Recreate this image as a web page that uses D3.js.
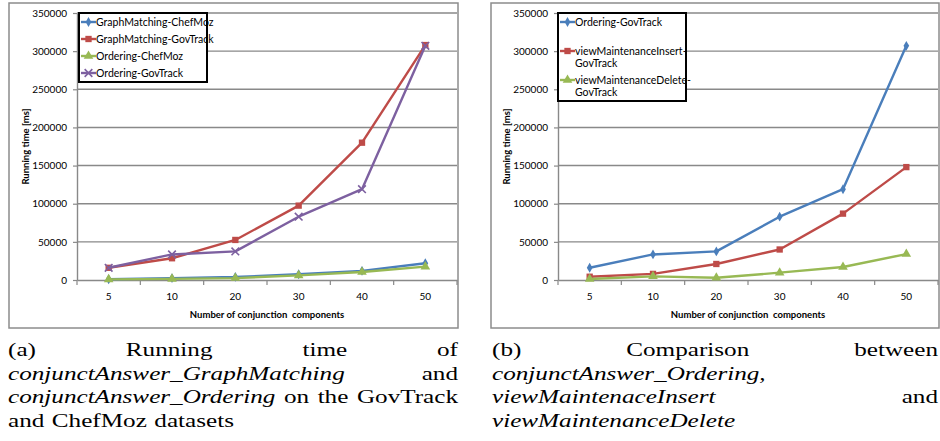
<!DOCTYPE html>
<html>
<head>
<meta charset="utf-8">
<script src="https://d3js.org/d3.v7.min.js"></script>
<style>
  body { margin: 0; background: #fff; }
  svg { display: block; }
</style>
</head>
<body>
<script>
// ---- data ----
const categories = ["5", "10", "20", "30", "40", "50"];
const yTickValues = [0, 50000, 100000, 150000, 200000, 250000, 300000, 350000];

// panel (a)
const graphMatchingChefMoz = [1000, 2500, 4000, 7500, 12000, 22000];
const graphMatchingGovTrack = [16000, 28500, 52500, 97500, 180000, 308000];
const orderingChefMoz = [800, 1500, 2500, 6000, 10500, 17500];
const orderingGovTrack = [16000, 33500, 37500, 83000, 119000, 307000];

// panel (b)
const viewInsertGovTrack = [4300, 8000, 21000, 40000, 87000, 148000];
const viewDeleteGovTrack = [1300, 4800, 3000, 9600, 17000, 34000];

// captions: [word, italic]
const captionA = [
  [["(a)", 0], ["Running", 0], ["time", 0], ["of", 0]],
  [["conjunctAnswer_GraphMatching", 1], ["and", 0]],
  [["conjunctAnswer_Ordering", 1], ["on", 0], ["the", 0], ["GovTrack", 0]],
  [["and", 0], ["ChefMoz", 0], ["datasets", 0]]
];
const captionB = [
  [["(b)", 0], ["Comparison", 0], ["between", 0]],
  [["conjunctAnswer_Ordering,", 1]],
  [["viewMaintenaceInsert", 1], ["and", 0]],
  [["viewMaintenanceDelete", 1]]
];

const blue = "#4a7ebb", red = "#be4b48", green = "#98b954", purple = "#7d60a0";
const gridColor = "#898989";

const svg = d3.select("body").append("svg")
    .attr("width", 940)
    .attr("height", 441);

function drawPanel(cfg) {
  let g = svg.append("g");

  let x = d3.scaleBand().domain(categories).range([cfg.left, cfg.right]);
  let y = d3.scaleLinear().domain([0, 350000]).range([280, 13]);

  // outer frame
  g.append("rect")
      .attr("x", cfg.frame[0]).attr("y", 3)
      .attr("width", cfg.frame[1] - cfg.frame[0]).attr("height", 325)
      .attr("fill", "none").attr("stroke", "#8c8c8c").attr("stroke-width", 1.5);

  // gridlines
  g.append("g").selectAll("line")
    .data(yTickValues.slice(1))
    .join("line")
      .attr("x1", cfg.left).attr("x2", cfg.right)
      .attr("y1", d => y(d)).attr("y2", d => y(d))
      .attr("stroke", gridColor).attr("stroke-width", 1.4);

  // y axis
  let ya = g.append("g")
      .attr("transform", `translate(${cfg.left},0)`)
      .call(d3.axisLeft(y).tickValues(yTickValues).tickFormat(d3.format("d"))
              .tickSize(4).tickSizeOuter(0).tickPadding(6));
  ya.select(".domain").attr("stroke", gridColor).attr("stroke-width", 1.4);
  ya.selectAll(".tick line").attr("stroke", gridColor).attr("stroke-width", 1.2);
  ya.selectAll("text").attr("font-family", "Lato, sans-serif").attr("font-size", 10).attr("fill", "#000");

  // x axis
  let xa = g.append("g")
      .attr("transform", "translate(0,280)")
      .call(d3.axisBottom(x).tickSize(0).tickSizeOuter(0).tickPadding(13));
  xa.select(".domain").attr("stroke", gridColor).attr("stroke-width", 1.4);
  xa.selectAll("text").attr("font-family", "Lato, sans-serif").attr("font-size", 10).attr("fill", "#000");
  xa.selectAll("line.bound")
    .data(categories.map(c => x(c)).concat([cfg.right]))
    .join("line")
      .attr("class", "bound")
      .attr("x1", d => d).attr("x2", d => d)
      .attr("y1", 0).attr("y2", 5)
      .attr("stroke", gridColor).attr("stroke-width", 1.2);

  // axis titles
  g.append("text")
      .attr("x", (cfg.left + cfg.right) / 2).attr("y", 318)
      .attr("text-anchor", "middle")
      .attr("font-family", "Lato, sans-serif").attr("font-size", 9.5).attr("font-weight", "bold")
      .style("white-space", "pre")
      .text("Number of conjunction  components");
  g.append("text")
      .attr("transform", `translate(${cfg.yTitleX},146.5) rotate(-90)`)
      .attr("text-anchor", "middle")
      .attr("font-family", "Lato, sans-serif").attr("font-size", 9.5).attr("font-weight", "bold")
      .text("Running time [ms]");

  // series
  let line = d3.line()
      .x((d, i) => x(categories[i]) + x.bandwidth() / 2)
      .y(d => y(d));

  cfg.series.forEach(s => {
    g.append("path")
        .attr("d", line(s.values))
        .attr("fill", "none").attr("stroke", s.color).attr("stroke-width", 2.4)
        .attr("stroke-linejoin", "round");
    g.append("g").selectAll("path")
      .data(s.values)
      .join("path")
        .attr("transform", (d, i) => `translate(${x(categories[i]) + x.bandwidth() / 2},${y(d)})`)
        .call(p => markerStyle(p, s));
  });

  // legend
  let lg = g.append("g");
  let rowH = 5 + 12 * cfg.legendLines;
  lg.append("rect")
      .attr("x", cfg.legend[0]).attr("y", 13)
      .attr("width", cfg.legend[1]).attr("height", rowH * cfg.series.length + 1)
      .attr("fill", "#fff").attr("stroke", "#000").attr("stroke-width", 2);
  cfg.series.forEach((s, k) => {
    let cy = 22 + k * rowH;
    let lx = cfg.legend[0] + 2;
    lg.append("line")
        .attr("x1", lx).attr("x2", lx + 15).attr("y1", cy).attr("y2", cy)
        .attr("stroke", s.color).attr("stroke-width", 2.4);
    lg.append("path")
        .attr("transform", `translate(${lx + 7.5},${cy})`)
        .call(p => markerStyle(p, s));
    s.label.split("\n").forEach((t, j) => {
      lg.append("text")
          .attr("x", lx + 15).attr("y", cy + 3.8 + j * 12)
          .attr("font-family", "Lato, sans-serif").attr("font-size", 10.5)
          .text(t);
    });
  });
}

function markerStyle(p, s) {
  if (s.symbol === d3.symbolTimes) {
    p.attr("d", d3.symbol(s.symbol, 40)())
     .attr("fill", "none").attr("stroke", s.color).attr("stroke-width", 1.6);
  } else {
    p.attr("d", d3.symbol(s.symbol, s.size)())
     .attr("fill", s.color).attr("stroke", "none");
  }
}

drawPanel({
  frame: [9, 458], left: 77, right: 457, yTitleX: 28.5,
  legend: [79, 128], legendLines: 1,
  series: [
    { label: "GraphMatching-ChefMoz", values: graphMatchingChefMoz, color: blue, symbol: d3.symbolDiamond, size: 28 },
    { label: "GraphMatching-GovTrack", values: graphMatchingGovTrack, color: red, symbol: d3.symbolSquare, size: 40 },
    { label: "Ordering-ChefMoz", values: orderingChefMoz, color: green, symbol: d3.symbolTriangle, size: 40 },
    { label: "Ordering-GovTrack", values: orderingGovTrack, color: purple, symbol: d3.symbolTimes, size: 40 }
  ]
});

drawPanel({
  frame: [491, 939], left: 558, right: 938, yTitleX: 509.5,
  legend: [558, 128], legendLines: 2,
  series: [
    { label: "Ordering-GovTrack", values: orderingGovTrack, color: blue, symbol: d3.symbolDiamond, size: 28 },
    { label: "viewMaintenanceInsert-\nGovTrack", values: viewInsertGovTrack, color: red, symbol: d3.symbolSquare, size: 40 },
    { label: "viewMaintenanceDelete-\nGovTrack", values: viewDeleteGovTrack, color: green, symbol: d3.symbolTriangle, size: 40 }
  ]
});

// ---- captions (justified LaTeX-like paragraphs) ----
const sx = 1.36;
const baselines = [356, 379.5, 403, 426.5];

function drawCaption(lines, x0, x1) {
  let g = svg.append("g")
      .attr("font-family", "'Liberation Serif', 'Times New Roman', serif")
      .attr("font-size", 18.5)
      .attr("fill", "#000");
  lines.forEach((words, li) => {
    let nodes = words.map(w => g.append("text")
        .attr("font-style", w[1] ? "italic" : "normal")
        .text(w[0]));
    let widths = nodes.map(n => n.node().getComputedTextLength() * sx);
    let last = li === lines.length - 1;
    let gap = 5.5 * sx;
    if (!last && nodes.length > 1) {
      gap = (x1 - x0 - d3.sum(widths)) / (nodes.length - 1);
    }
    let cx = x0;
    nodes.forEach((n, i) => {
      n.attr("transform", `translate(${cx},${baselines[li]}) scale(${sx},1)`);
      cx += widths[i] + gap;
    });
  });
}

drawCaption(captionA, 8, 458);
drawCaption(captionB, 492, 938);
</script>
</body>
</html>
